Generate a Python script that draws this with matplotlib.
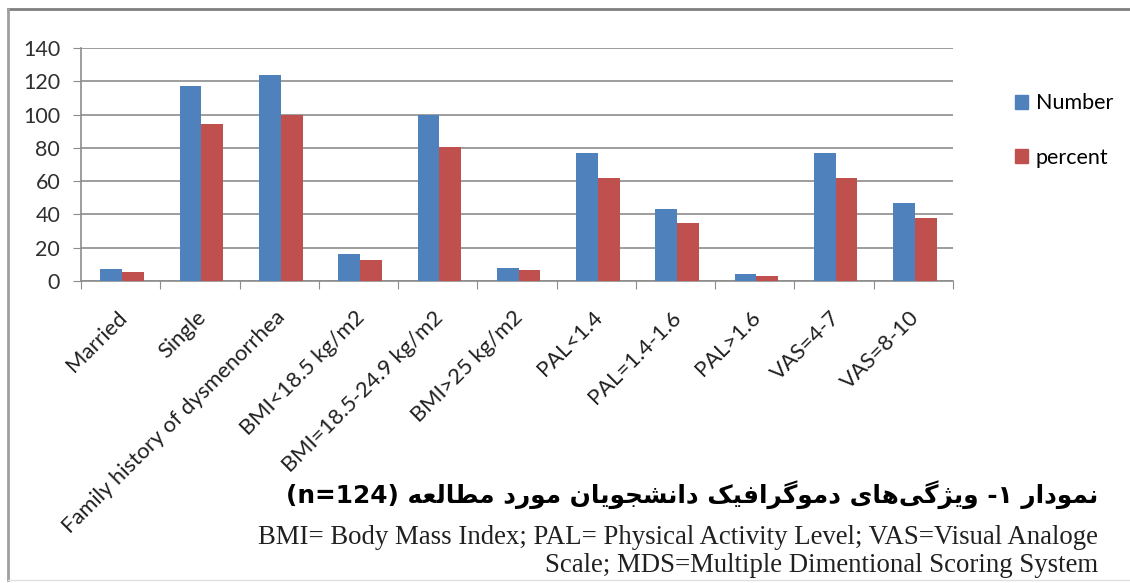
import matplotlib
matplotlib.use('Agg')
import matplotlib.pyplot as plt
from matplotlib.patches import Patch
from matplotlib.lines import Line2D
import numpy as np

categories = ['Married', 'Single', 'Family history of dysmenorrhea',
              'BMI<18.5 kg/m2', 'BMI=18.5-24.9 kg/m2', 'BMI>25 kg/m2',
              'PAL<1.4', 'PAL=1.4-1.6', 'PAL>1.6', 'VAS=4-7', 'VAS=8-10']
number = [7, 117, 124, 16, 100, 8, 77, 43, 4, 77, 47]
percent = [5.6, 94.4, 100, 12.9, 80.6, 6.5, 62.1, 34.7, 3.2, 62.1, 37.9]
yticks = [0, 20, 40, 60, 80, 100, 120, 140]
series_names = ['Number', 'percent']

title_fa = 'نمودار ۱- ویژگی\u200cهای دموگرافیک دانشجویان مورد مطالعه'
title_n = '(n=124)'
note_1 = 'BMI= Body Mass Index; PAL= Physical Activity Level; VAS=Visual Analoge'
note_2 = 'Scale; MDS=Multiple Dimentional Scoring System'

# presentation forms: (isolated, final, initial, medial)
DUAL = {
    'ن': (0xFEE5, 0xFEE6, 0xFEE7, 0xFEE8),
    'م': (0xFEE1, 0xFEE2, 0xFEE3, 0xFEE4),
    'ه': (0xFEE9, 0xFEEA, 0xFEEB, 0xFEEC),
    'ف': (0xFED1, 0xFED2, 0xFED3, 0xFED4),
    'ش': (0xFEB5, 0xFEB6, 0xFEB7, 0xFEB8),
    'ج': (0xFE9D, 0xFE9E, 0xFE9F, 0xFEA0),
    'ط': (0xFEC1, 0xFEC2, 0xFEC3, 0xFEC4),
    'ل': (0xFEDD, 0xFEDE, 0xFEDF, 0xFEE0),
    'ع': (0xFEC9, 0xFECA, 0xFECB, 0xFECC),
    'ی': (0xFBFC, 0xFBFD, 0xFBFE, 0xFBFF),
    'ک': (0xFB8E, 0xFB8F, 0xFB90, 0xFB91),
    'گ': (0xFB92, 0xFB93, 0xFB94, 0xFB95),
}
RIGHT = {
    'ا': (0xFE8D, 0xFE8E),
    'د': (0xFEA9, 0xFEAA),
    'ر': (0xFEAD, 0xFEAE),
    'و': (0xFEED, 0xFEEE),
    'ژ': (0xFB8A, 0xFB8B),
}


def shape_rtl(s):
    out = []
    for i, ch in enumerate(s):
        if ch == '\u200c':
            continue
        prev = i > 0 and s[i - 1] in DUAL
        nxt = ch in DUAL and i + 1 < len(s) and (s[i + 1] in DUAL or s[i + 1] in RIGHT)
        if ch in DUAL:
            f = DUAL[ch]
            if prev and nxt:
                out.append(chr(f[3]))
            elif prev:
                out.append(chr(f[1]))
            elif nxt:
                out.append(chr(f[2]))
            else:
                out.append(chr(f[0]))
        elif ch in RIGHT:
            f = RIGHT[ch]
            out.append(chr(f[1] if prev else f[0]))
        else:
            out.append(ch)
    return ''.join(reversed(out))


blue = '#4F81BD'
red = '#C0504D'
grid_c = '#8C8C8C'

fig = plt.figure(figsize=(11.3, 5.83), dpi=100)
W, H = 1130, 583
ax = fig.add_axes([81 / W, 1 - 281 / H, (953 - 81) / W, (281 - 48) / H])

x = np.arange(len(categories))
bw = 0.275
ax.bar(x - bw / 2 + 0.02, number, bw, color=blue, zorder=3)
ax.bar(x + bw / 2 + 0.02, percent, bw, color=red, zorder=3)

ax.set_xlim(-0.5, len(categories) - 0.5)
ax.set_ylim(0, 140)
ax.set_yticks(yticks)
ax.set_yticklabels([str(v) for v in yticks], fontsize=15.5, family='Lato', color='#303030')
ax.yaxis.grid(True, color=grid_c, lw=1.2)
ax.set_axisbelow(True)
ax.set_xticks(np.arange(len(categories) + 1) - 0.5)
ax.set_xticklabels([])
ax.tick_params(axis='y', length=6, color=grid_c, pad=9)
ax.tick_params(axis='x', length=6, color=grid_c)
for s in ['top', 'right']:
    ax.spines[s].set_visible(False)
for s in ['left', 'bottom']:
    ax.spines[s].set_color(grid_c)
    ax.spines[s].set_linewidth(1.2)

for i, lab in enumerate(categories):
    ax.annotate(lab, xy=(i, 0), xycoords=('data', 'axes fraction'),
                xytext=(2, -24), textcoords='offset points',
                rotation=45, ha='right', va='center', rotation_mode='anchor',
                fontsize=15.8, family='Lato', color='#202020')

handles = [Patch(color=blue), Patch(color=red)]
fig.legend(handles, series_names, loc='upper left', bbox_to_anchor=(996 / W, 1 - 74 / H),
           frameon=False, prop={'family': 'Lato', 'size': 15.5},
           handlelength=0.6, handleheight=0.6, handletextpad=0.35, labelspacing=1.6)

title_vis = title_n + ' ' + shape_rtl(title_fa)
fig.text(1098 / W, 1 - 495 / H, title_vis, ha='right', va='center',
         fontsize=17.8, fontweight='bold', family=['DejaVu Sans'], color='black')
fig.text(1098 / W, 1 - 537 / H, note_1, ha='right', va='center',
         fontsize=19.3, family='Liberation Serif', color='#202020')
fig.text(1098 / W, 1 - 566 / H, note_2, ha='right', va='center',
         fontsize=19.3, family='Liberation Serif', color='#202020')

# chart frame
fig.add_artist(Line2D([8 / W, 1], [1 - 9 / H, 1 - 9 / H], color='#7F7F7F', lw=2))
fig.add_artist(Line2D([8 / W, 8 / W], [1 - 9 / H, 1 - 580 / H], color='#A0A0A0', lw=2))
fig.add_artist(Line2D([8 / W, 1], [1 - 580 / H, 1 - 580 / H], color='#E0E0E0', lw=1))

fig.savefig('out.png', dpi=100)
